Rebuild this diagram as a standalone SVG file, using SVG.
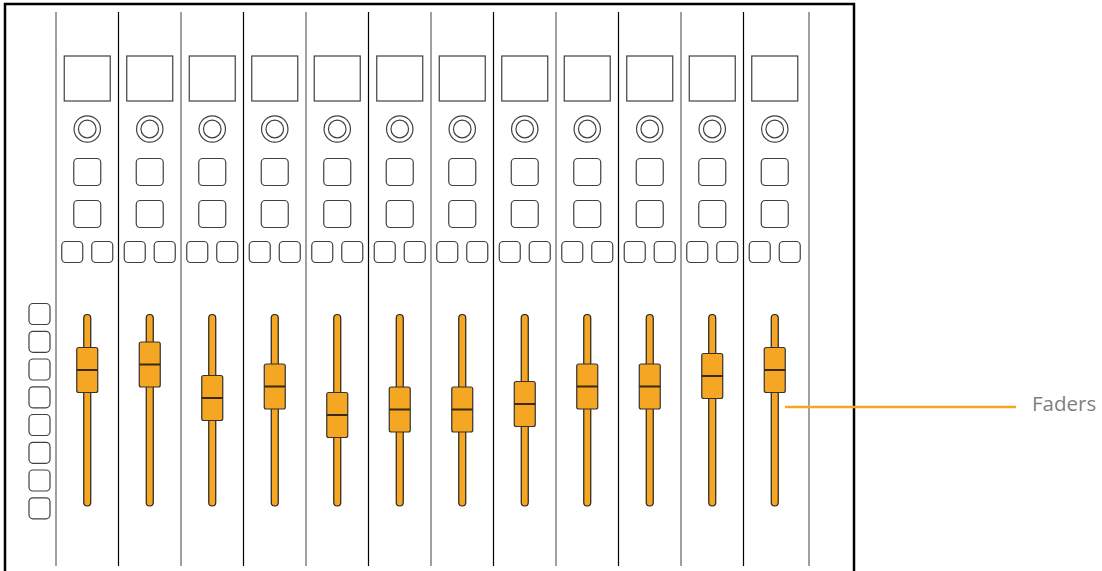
<svg xmlns="http://www.w3.org/2000/svg" width="1102" height="571" viewBox="0 0 1102 571">
<defs>
<style>
.frame{fill:#fff;stroke:#000;stroke-width:2.5}
.sepG{stroke:#808080;stroke-width:1.5}
.sepB{stroke:#000;stroke-width:1.2}
.scr{fill:#fff;stroke:#404040;stroke-width:1.2}
.btn{fill:#fff;stroke:#404040;stroke-width:1.2}
.knob{fill:#fff;stroke:#404040;stroke-width:1.2}
.track{fill:#F5A623;stroke:#222;stroke-width:1.2}
.cap{fill:#F5A623;stroke:#333;stroke-width:1.2}
.capline{stroke:#3a2a10;stroke-width:2}
.callout{stroke:#F5A623;stroke-width:2.5}
.label{font-family:"Open Sans","Liberation Sans",sans-serif;font-size:20.5px;fill:#7f7f7f}
</style>
<g id="strip">
<rect class="scr" x="-23" y="56" width="46" height="45"/>
<circle class="knob" cx="0" cy="129" r="13.2"/>
<circle class="knob" cx="0" cy="129" r="8.8"/>
<rect class="btn" x="-13.5" y="158.5" width="27" height="27" rx="4"/>
<rect class="btn" x="-13.5" y="200.5" width="27" height="27" rx="4"/>
<rect class="btn" x="-25.5" y="241.5" width="21" height="21" rx="4"/>
<rect class="btn" x="4.5" y="241.5" width="21" height="21" rx="4"/>
<rect class="track" x="-3.5" y="314.5" width="7" height="191.5" rx="3.5"/>
</g>
<g id="fcap">
<rect class="cap" x="-10.5" y="-22.5" width="21" height="45" rx="2"/>
<line class="capline" x1="-10.5" y1="0" x2="10.5" y2="0"/>
</g>
</defs>
<rect class="frame" x="5" y="4" width="849" height="580"/>
<g id="separators">
<line class="sepG" x1="56" y1="12" x2="56" y2="566"/>
<line class="sepB" x1="118.5" y1="12" x2="118.5" y2="566"/>
<line class="sepG" x1="181" y1="12" x2="181" y2="566"/>
<line class="sepB" x1="243.5" y1="12" x2="243.5" y2="566"/>
<line class="sepG" x1="306" y1="12" x2="306" y2="566"/>
<line class="sepB" x1="368.5" y1="12" x2="368.5" y2="566"/>
<line class="sepG" x1="431" y1="12" x2="431" y2="566"/>
<line class="sepB" x1="493.5" y1="12" x2="493.5" y2="566"/>
<line class="sepG" x1="556" y1="12" x2="556" y2="566"/>
<line class="sepB" x1="618.5" y1="12" x2="618.5" y2="566"/>
<line class="sepG" x1="681" y1="12" x2="681" y2="566"/>
<line class="sepB" x1="743.5" y1="12" x2="743.5" y2="566"/>
<line class="sepG" x1="809" y1="12" x2="809" y2="566"/>
</g>
<g id="side-buttons">
<rect class="btn" x="29" y="303.5" width="21" height="21" rx="4"/>
<rect class="btn" x="29" y="331.3" width="21" height="21" rx="4"/>
<rect class="btn" x="29" y="359" width="21" height="21" rx="4"/>
<rect class="btn" x="29" y="386.8" width="21" height="21" rx="4"/>
<rect class="btn" x="29" y="414.5" width="21" height="21" rx="4"/>
<rect class="btn" x="29" y="442.3" width="21" height="21" rx="4"/>
<rect class="btn" x="29" y="470" width="21" height="21" rx="4"/>
<rect class="btn" x="29" y="497.8" width="21" height="21" rx="4"/>
</g>
<g id="ch1"><use href="#strip" x="87.25"/><use href="#fcap" x="87.25" y="370"/></g>
<g id="ch2"><use href="#strip" x="149.75"/><use href="#fcap" x="149.75" y="364.5"/></g>
<g id="ch3"><use href="#strip" x="212.25"/><use href="#fcap" x="212.25" y="398"/></g>
<g id="ch4"><use href="#strip" x="274.75"/><use href="#fcap" x="274.75" y="386.5"/></g>
<g id="ch5"><use href="#strip" x="337.25"/><use href="#fcap" x="337.25" y="415"/></g>
<g id="ch6"><use href="#strip" x="399.75"/><use href="#fcap" x="399.75" y="409.5"/></g>
<g id="ch7"><use href="#strip" x="462.25"/><use href="#fcap" x="462.25" y="409.5"/></g>
<g id="ch8"><use href="#strip" x="524.75"/><use href="#fcap" x="524.75" y="404"/></g>
<g id="ch9"><use href="#strip" x="587.25"/><use href="#fcap" x="587.25" y="386.5"/></g>
<g id="ch10"><use href="#strip" x="649.75"/><use href="#fcap" x="649.75" y="386.5"/></g>
<g id="ch11"><use href="#strip" x="712.25"/><use href="#fcap" x="712.25" y="376"/></g>
<g id="ch12"><use href="#strip" x="774.75"/><use href="#fcap" x="774.75" y="370"/></g>
<g id="connectors">
<line class="callout" x1="785" y1="407" x2="1016" y2="407"/>
</g>
<g id="label-faders">
<text class="label" x="1032" y="411">Faders</text>
</g>
</svg>
